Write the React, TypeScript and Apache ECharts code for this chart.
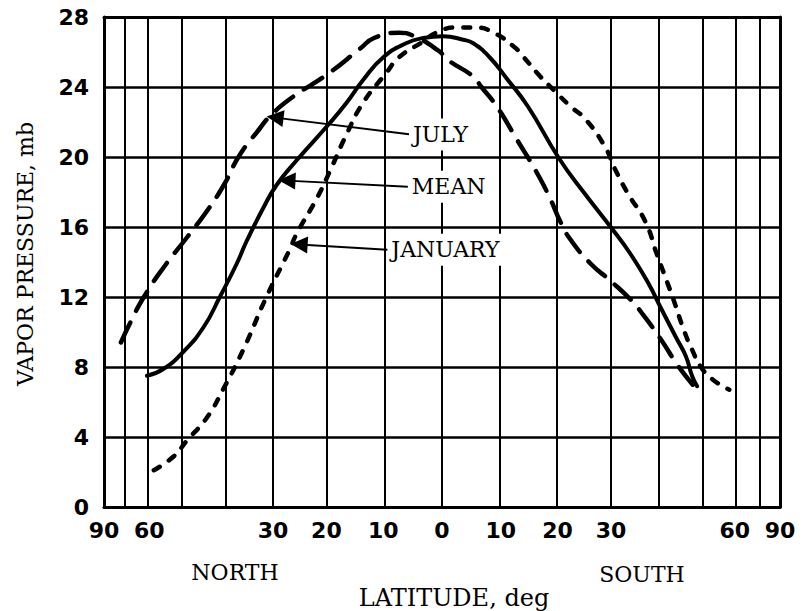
import React, { useEffect, useRef } from "react";
import * as echarts from "echarts";

// Latitude in degrees: north is negative (left), south is positive (right).
const latitudeTickLabels = [-90, -60, -30, -20, -10, 0, 10, 20, 30, 60, 90];
const latitudeGridLines = [-70, -60, -50, -40, -30, -20, -10, 0, 10, 20, 30, 40, 50, 60, 70];
const pressureMin = 0;
const pressureMax = 28;
const pressureStep = 4;

const julyLat = [-71.8, -67.4, -61.9, -55.4, -49.0, -44.1, -40.2, -36.8, -32.7, -30.7, -26.8, -19.5, -14.0, -11.6, -7.3, -4.7, -0.7, 1.2, 5.3, 6.7, 9.3, 12.8, 16.3, 18.7, 20.5, 22.3, 26.1, 30.0, 34.1, 36.2, 40.3, 44.5, 49.0];
const julyVal = [9.4, 10.5, 12.0, 13.7, 15.4, 16.9, 18.4, 20.1, 21.6, 22.3, 23.3, 24.8, 26.2, 26.8, 27.1, 26.9, 26.1, 25.5, 24.6, 24.0, 22.9, 21.0, 19.1, 17.6, 16.3, 15.3, 13.9, 12.9, 11.8, 11.1, 9.6, 8.0, 6.7];

const meanLat = [-60.8, -55.4, -49.8, -44.8, -41.1, -37.4, -35.3, -31.9, -29.3, -25.5, -19.5, -16.4, -13.5, -10.0, -6.1, -3.2, 0.2, 3.6, 5.3, 8.1, 11.0, 14.7, 20.3, 25.0, 30.2, 33.8, 37.6, 40.5, 43.8, 46.2, 47.7, 49.0];
const meanVal = [7.5, 7.9, 8.9, 10.3, 12.0, 13.9, 15.2, 17.1, 18.4, 19.8, 21.9, 23.1, 24.4, 25.7, 26.5, 26.8, 26.9, 26.7, 26.5, 25.7, 24.5, 22.9, 19.9, 17.9, 15.9, 14.5, 12.8, 11.3, 9.7, 8.6, 7.5, 6.9];

const januaryLat = [-58.5, -52.5, -49.0, -44.1, -40.2, -36.0, -31.3, -26.8, -25.5, -21.8, -19.5, -16.4, -13.5, -9.5, -7.3, -3.2, -1.0, 2.4, 5.8, 8.8, 12.3, 14.0, 16.9, 19.4, 22.3, 25.0, 28.8, 30.8, 33.4, 37.0, 39.4, 41.4, 43.3, 45.7, 47.7, 50.0, 53.1, 58.2];
const januaryVal = [2.1, 2.9, 3.8, 5.1, 6.8, 9.0, 12.0, 14.7, 15.6, 17.6, 19.1, 21.3, 23.1, 24.8, 25.7, 26.6, 27.1, 27.4, 27.4, 27.1, 26.3, 25.7, 24.6, 23.8, 22.9, 22.2, 20.6, 19.3, 17.9, 16.3, 14.5, 13.1, 11.8, 10.1, 9.0, 8.0, 7.3, 6.7];

// Callout annotations (arrow head position and text anchor, in data units)
const calloutNames = ["JULY", "MEAN", "JANUARY"];
const calloutHeadLat = [-29.6, -27.3, -25.0];
const calloutHeadVal = [22.25, 18.65, 15.0];
const calloutTextLat = [-5.6, -5.8, -9.3];
const calloutTextVal = [21.3, 18.3, 14.7];

const toX = (lat: number) => Math.sin((lat * Math.PI) / 180);
const pairs = (lats: number[], vals: number[]) => lats.map((l, i) => [toX(l), vals[i]]);

const SERIF = "DejaVu Serif";
const NUMFONT = "DejaVu Sans";

export default function App() {
  const ref = useRef<HTMLDivElement>(null);
  useEffect(() => {
    if (!ref.current) return;
    const chart = echarts.init(ref.current, undefined, { renderer: "svg" });
    const labelFmt = (v: number) =>
      String(Math.round((Math.abs(Math.asin(Math.max(-1, Math.min(1, v)))) * 180) / Math.PI));
    const textStyle = (text: string, size = 22) => ({
      text,
      fill: "#000",
      fontFamily: SERIF,
      fontWeight: "normal",
      fontSize: size,
      align: "center",
      verticalAlign: "middle",
    });
    const option: any = {
      animation: false,
      backgroundColor: "#fff",
      grid: { left: 104, right: 22, top: 17, bottom: 104, containLabel: false },
      xAxis: [
        {
          type: "value",
          min: -1,
          max: 1,
          position: "bottom",
          splitLine: { show: false },
          axisTick: { show: false },
          axisLine: { show: true, onZero: false, lineStyle: { color: "#000", width: 3 } },
          axisLabel: {
            customValues: latitudeTickLabels.map(toX),
            formatter: labelFmt,
            color: "#000",
            fontFamily: NUMFONT,
            fontWeight: "bold",
            fontSize: 22,
            margin: 12,
          },
        },
        {
          type: "value",
          min: -1,
          max: 1,
          position: "top",
          splitLine: { show: false },
          axisTick: { show: false },
          axisLabel: { show: false },
          axisLine: { show: true, onZero: false, lineStyle: { color: "#000", width: 3 } },
        },
      ],
      yAxis: [
        {
          type: "value",
          min: pressureMin,
          max: pressureMax,
          interval: pressureStep,
          axisTick: { show: false },
          axisLine: { show: true, onZero: false, lineStyle: { color: "#000", width: 3 } },
          splitLine: { show: true, lineStyle: { color: "#000", width: 2.5 } },
          axisLabel: {
            color: "#000",
            fontFamily: NUMFONT,
            fontWeight: "bold",
            fontSize: 22,
            margin: 15,
          },
        },
        {
          type: "value",
          min: pressureMin,
          max: pressureMax,
          position: "right",
          axisTick: { show: false },
          axisLabel: { show: false },
          splitLine: { show: false },
          axisLine: { show: true, onZero: false, lineStyle: { color: "#000", width: 3 } },
        },
      ],
      series: [
        {
          name: "MEAN",
          type: "line",
          data: pairs(meanLat, meanVal),
          showSymbol: false,
          smooth: 0.5,
          z: 3,
          lineStyle: { color: "#000", width: 4, cap: "round" },
          markLine: {
            z: 1,
            silent: true,
            symbol: ["none", "none"],
            label: { show: false },
            lineStyle: { color: "#000", width: 2, type: "solid" },
            data: latitudeGridLines.map((l) => ({ xAxis: toX(l) })),
          },
        },
        {
          name: "JULY",
          type: "line",
          data: pairs(julyLat, julyVal),
          showSymbol: false,
          smooth: 0.5,
          z: 3,
          lineStyle: { color: "#000", width: 4.5, type: [22, 13], cap: "round" },
        },
        {
          name: "JANUARY",
          type: "line",
          data: pairs(januaryLat, januaryVal),
          showSymbol: false,
          smooth: 0.5,
          z: 3,
          lineStyle: { color: "#000", width: 4.5, type: [7, 11], cap: "round" },
          markLine: {
            z: 6,
            silent: true,
            symbol: ["triangle", "none"],
            symbolSize: 17,
            lineStyle: { color: "#000", width: 2, type: "solid" },
            label: {
              show: true,
              position: "end",
              distance: 2,
              color: "#000",
              fontFamily: SERIF,
              fontWeight: "normal",
              fontSize: 22,
              backgroundColor: "#fff",
              padding: [6, 2, 4, 2],
              formatter: (p: any) => p.name,
            },
            data: calloutNames.map((n, i) => [
              { name: n, coord: [toX(calloutHeadLat[i]), calloutHeadVal[i]] },
              { coord: [toX(calloutTextLat[i]), calloutTextVal[i]] },
            ]),
          },
        },
      ],
      graphic: [
        { type: "text", x: 25, y: 254, rotation: Math.PI / 2, style: textStyle("VAPOR PRESSURE, mb") },
        { type: "text", x: 235, y: 572, style: textStyle("NORTH") },
        { type: "text", x: 642, y: 574, style: textStyle("SOUTH") },
        { type: "text", x: 454, y: 598, style: textStyle("LATITUDE, deg", 24) },
      ],
    };
    chart.setOption(option);
    return () => chart.dispose();
  }, []);
  return (
    <div
      ref={ref}
      style={{ position: "fixed", left: 0, top: 0, width: 802, height: 611, background: "#fff" }}
    />
  );
}
